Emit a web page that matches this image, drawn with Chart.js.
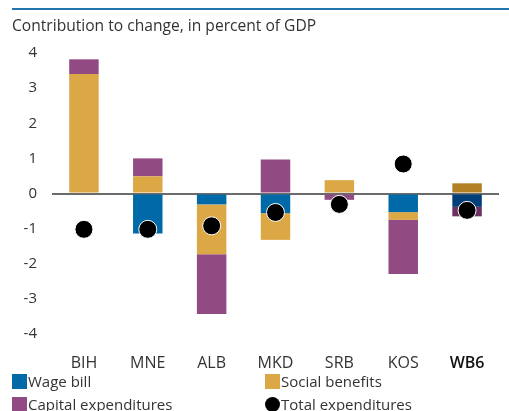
<!DOCTYPE html>
<html>
<head>
<meta charset="utf-8">
<script src="https://cdn.jsdelivr.net/npm/chart.js@4/dist/chart.umd.min.js"></script>
<style>
  html, body { margin:0; padding:0; background:#fff; }
  body { width:509px; height:411px; position:relative; overflow:hidden;
         font-family:"Open Sans", "Noto Sans", sans-serif; color:#333; }
  #wrap { position:absolute; left:0; top:0; width:509px; height:411px; }
  #topline { position:absolute; left:12px; top:8px; width:497px; height:2px; background:#2474ad; }
  #title { position:absolute; left:12px; top:14px; font-size:15.6px; white-space:nowrap; }
  .lg { position:absolute; font-size:15px; white-space:nowrap; line-height:15px; }
  .lg i { display:inline-block; width:15px; height:15px; vertical-align:top; margin-right:1px; }
</style>
</head>
<body>
<div id="wrap"><canvas id="c" width="509" height="411"></canvas></div>
<div id="topline"></div>
<div id="title">Contribution to change, in percent of GDP</div>
<div class="lg" style="left:12px;top:374px"><i style="background:#0069a7"></i>Wage bill</div>
<div class="lg" style="left:265px;top:374px"><i style="background:#dca845"></i>Social benefits</div>
<div class="lg" style="left:12px;top:397px"><i style="background:#924a83"></i>Capital expenditures</div>
<div class="lg" style="left:265px;top:397px"><i style="background:#000;border-radius:50%"></i>Total expenditures</div>
<script>
// Data
const countries = ['BIH', 'MNE', 'ALB', 'MKD', 'SRB', 'KOS', 'WB6'];
const wageBill  = [0,     -1.14, -0.31, -0.56, 0.03,  -0.53, -0.38];
const socialBen = [3.40,  0.49,  -1.42, -0.76, 0.35,  -0.22, 0.29];
const capitalEx = [0.42,  0.51,  -1.70, 0.97,  -0.18, -1.54, -0.27];
const totalExp  = [-1.02, -1.02, -0.92, -0.54, -0.31, 0.84,  -0.48];
const yTicks    = [-4, -3, -2, -1, 0, 1, 2, 3, 4];

// colours (WB6 drawn darker)
const cWage = '#0069a7', cWageD = '#003f7a';
const cSoc  = '#dca845', cSocD  = '#b18022';
const cCap  = '#924a83', cCapD  = '#6e2f63';
const colorsFor = (c, d) => countries.map(k => k === 'WB6' ? d : c);

const FONT = '"Open Sans", "Noto Sans", sans-serif';

const barOpts = { barPercentage: 30/65, categoryPercentage: 1, borderWidth: 0, order: 2 };

new Chart(document.getElementById('c'), {
  type: 'bar',
  data: {
    labels: countries,
    datasets: [
      { label: 'Wage bill', data: wageBill, backgroundColor: colorsFor(cWage, cWageD), ...barOpts },
      { label: 'Social benefits', data: socialBen, backgroundColor: colorsFor(cSoc, cSocD), ...barOpts },
      { label: 'Capital expenditures', data: capitalEx, backgroundColor: colorsFor(cCap, cCapD), ...barOpts },
      { type: 'line', label: 'Total expenditures', data: totalExp, showLine: false, order: 0,
        pointRadius: 9, pointBackgroundColor: '#000', pointBorderColor: '#fff', pointBorderWidth: 1 }
    ]
  },
  options: {
    responsive: false, animation: false,
    layout: { padding: { top: 53, right: 2, left: 0, bottom: 0 } },
    plugins: { legend: { display: false }, tooltip: { enabled: false } },
    scales: {
      x: {
        stacked: true,
        grid: { display: false }, border: { display: false },
        ticks: {
          padding: 12,
          color: (ctx) => ctx.index === 6 ? '#111' : '#333',
          font: (ctx) => ({ family: FONT, size: 16, weight: ctx.index === 6 ? '600' : 'normal' })
        },
        afterFit: (s) => { s.height = 77; }
      },
      y: {
        stacked: true, min: -4, max: 4,
        afterBuildTicks: (s) => { s.ticks = yTicks.map(v => ({ value: v })); },
        afterFit: (s) => { s.width = 52; },
        border: { display: false },
        grid: {
          drawTicks: false,
          color: (ctx) => ctx.tick && ctx.tick.value === 0 ? '#6b6b6b' : 'rgba(0,0,0,0)',
          lineWidth: (ctx) => ctx.tick && ctx.tick.value === 0 ? 2 : 0
        },
        ticks: { padding: 15, color: '#333', font: { family: FONT, size: 15 } }
      }
    }
  }
});
</script>
</body>
</html>
